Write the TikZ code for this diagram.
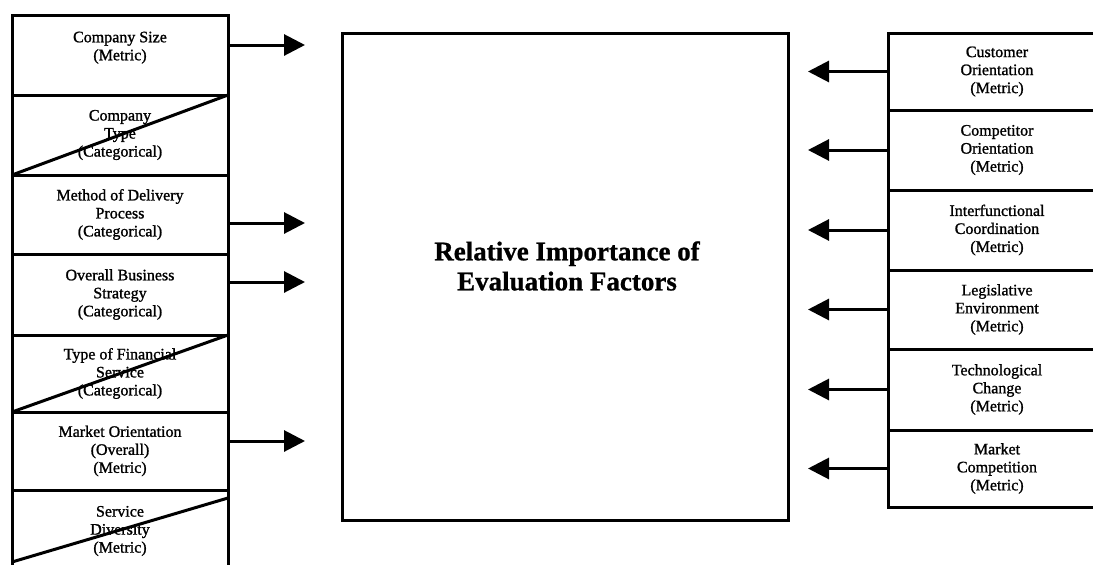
\documentclass[tikz,border=0pt]{standalone}
\usepackage{fontspec}
\setmainfont{Liberation Serif}
% scanned-print weight: slightly emboldened serif
\newfontfamily\factorfont[FakeBold=1.2]{Liberation Serif}
\newfontfamily\titlefont[FakeBold=0.8]{Liberation Serif Bold}
\usetikzlibrary{arrows.meta}
\begin{document}
\begin{tikzpicture}[x=1pt,y=-1pt,
  factor/.style={draw, line width=3pt, rectangle, inner sep=0pt, outer sep=0pt,
    align=center, font=\factorfont\fontsize{16}{18}\selectfont},
  lbox/.style={factor, minimum width=216pt},
  rbox/.style={factor, minimum width=218pt},
  feed/.style={line width=3pt, -{Triangle[length=21pt,width=21pt]}},
  cross/.style={line width=3pt},
  ]
\useasboundingbox (0,0) rectangle (1093,565);
\fill[white] (0,0) rectangle (1093,565);
\begin{scope}
\clip (0,0) rectangle (1093,565);

% left column: organisational characteristics
\node[lbox, minimum height=80pt] (s1) at (120,55)    {Company Size\\(Metric)\\\mbox{}};
\node[lbox, minimum height=80pt] (s2) at (120,135)   {Company\\Type\\(Categorical)};
\node[lbox, minimum height=79pt] (s3) at (120,214.5) {Method of Delivery\\Process\\(Categorical)};
\node[lbox, minimum height=81pt] (s4) at (120,294.5) {Overall Business\\Strategy\\(Categorical)};
\node[lbox, minimum height=77pt] (s5) at (120,373.5) {Type of Financial\\Service\\(Categorical)};
\node[lbox, minimum height=78pt] (s6) at (120,451)   {Market Orientation\\(Overall)\\(Metric)};
\node[lbox, minimum height=82pt] (s7) at (120,531)   {Service\\Diversity\\(Metric)};

% struck-out factors
\draw[cross] (s2.south west) -- (s2.north east);
\draw[cross] (s5.south west) -- (s5.north east);
\draw[cross] ([yshift=10pt]s7.south west) -- ([yshift=-8pt]s7.north east);

% central construct
\node[draw, line width=3pt, inner sep=0pt, outer sep=0pt,
      minimum width=446pt, minimum height=487pt] (main) at (565,276.5) {};
\node[font=\titlefont\fontsize{27}{30}\selectfont, align=center] (title) at (567,266)
  {Relative Importance of\\Evaluation Factors};

% right column: market orientation components and environment
\node[rbox, minimum height=77pt] (r1) at (997,71.5)  {Customer\\Orientation\\(Metric)};
\node[rbox, minimum height=80pt] (r2) at (997,150)   {Competitor\\Orientation\\(Metric)};
\node[rbox, minimum height=80pt] (r3) at (997,230)   {Interfunctional\\Coordination\\(Metric)};
\node[rbox, minimum height=79pt] (r4) at (997,309.5) {Legislative\\Environment\\(Metric)};
\node[rbox, minimum height=81pt] (r5) at (997,389.5) {Technological\\Change\\(Metric)};
\node[rbox, minimum height=77pt] (r6) at (997,468.5) {Market\\Competition\\(Metric)};

% influences from the left
\draw[feed, shorten >=37pt] (s1.east |- 0,45)  -- (main.west |- 0,45);
\draw[feed, shorten >=37pt] (s3.east |- 0,223) -- (main.west |- 0,223);
\draw[feed, shorten >=37pt] (s4.east |- 0,282) -- (main.west |- 0,282);
\draw[feed, shorten >=37pt] (s6.east |- 0,441) -- (main.west |- 0,441);

% influences from the right
\foreach \r in {r1,r2,r3,r4,r5,r6}
  \draw[feed, shorten >=20pt] (\r.west) -- (main.east |- \r.west);
\end{scope}
\end{tikzpicture}
\end{document}
